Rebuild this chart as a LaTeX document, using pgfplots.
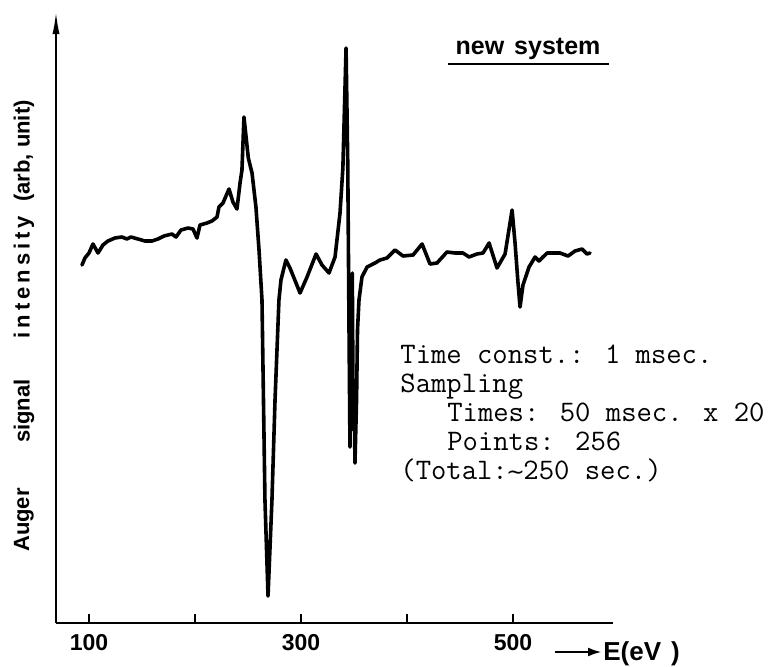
\documentclass[border=0pt]{standalone}
\usepackage{fontspec}
\setmainfont{Liberation Sans}
\newfontfamily\dejavu{DejaVu Sans}
\usepackage{pgfplots}
\pgfplotsset{compat=1.18}
\usetikzlibrary{arrows.meta}
\begin{document}
\begin{tikzpicture}
\path[use as bounding box] (0,0) rectangle (386pt,333pt);
\begin{axis}[
  at={(28pt,21.5pt)}, anchor=south west,
  scale only axis, width=278.5pt, height=306.5pt,
  xmin=68.9, xmax=594.3, ymin=0, ymax=613,
  axis x line=bottom, axis y line=left,
  axis line style={line width=1.2pt},
  x axis line style={-},
  y axis line style={-{Latex[length=12pt,width=3.5pt]}},
  xtick={100,200,300,400,500}, xticklabels={100,,300,,500},
  ytick=\empty,
  tick align=inside, major tick length=4.5pt,
  xtick style={line width=1.1pt,black},
  /pgf/number format/assume math mode=true,
  tick label style={font=\fontsize{11.5}{13}\selectfont\bfseries},
  xticklabel style={yshift=-2pt},
  clip=false,
]
\addplot[black, line width=1.8pt, line join=round, line cap=round] coordinates {
(93.4,358) (96.2,365) (100.0,370) (103.8,379) (108.5,370) (113.2,378)
(117.9,382) (124.5,385) (131.1,386) (135.8,384) (139.6,386) (146.2,384)
(152.8,382) (159.4,382) (165.1,384) (170.8,387) (178.3,389) (182.1,386)
(186.8,393) (193.4,395) (198.1,394) (201.9,385) (204.7,398) (211.3,400)
(216.0,402) (220.8,406) (222.6,416) (226.4,420) (232.1,434) (235.8,421)
(239.6,414) (242.5,440) (244.3,453) (246.2,506) (247.8,490) (250.3,465)
(253.8,450) (257.5,416) (260.4,373) (263.2,323) (266.0,123) (268.9,27)
(272.6,123) (275.5,223) (279.2,323) (281.1,343) (285.8,363) (289.6,355)
(299.1,330) (305.7,346) (314.2,369) (319.8,358) (326.4,350) (332.1,366)
(336.8,410) (339.5,455) (342.5,575) (344.1,460) (345.3,293) (346.2,176)
(347.2,263) (347.7,193) (348.4,350) (349.2,203) (350.0,243) (350.9,160)
(352.4,223) (353.3,293) (354.7,323) (357.5,346) (362.3,356) (369.8,360)
(374.5,363) (381.1,365) (388.7,373) (396.2,367) (405.7,368) (414.2,379)
(421.7,359) (428.3,360) (437.7,371) (445.3,370) (452.8,370) (458.5,366)
(466.0,369) (471.7,370) (477.4,380) (484.9,355) (492.5,369) (499.1,413)
(501.9,380) (504.7,340) (506.6,316) (509.4,338) (515.1,356) (520.8,366)
(524.5,362) (532.1,370) (544.3,370) (551.9,367) (558.5,372) (565.1,374)
(569.8,369) (572.6,370)
};
\end{axis}
\begin{scope}[x=0.5pt,y=-0.5pt,yshift=333pt]
  % y label
  \begin{scope}[every node/.style={rotate=90, font=\fontsize{11}{13}\selectfont\bfseries, inner sep=0pt}]
    \node at (24,520) {Auger};
    \node at (24,411) {signal};
    \node at (24,277) {\addfontfeature{LetterSpace=18}intensity};
    \node at (24,151) {(arb, unit)};
  \end{scope}
  % title
  \node[font=\fontsize{12.5}{15}\selectfont\bfseries, anchor=base, inner sep=0pt] at (528,55) {new\hspace{5pt}system};
  \draw[line width=1.1pt] (448,64) -- (609,64);
  % annotation
  \node[anchor=base west, inner sep=0pt, align=left,
        font=\fontsize{14.9}{14.5}\selectfont\ttfamily] at (400,479)
    {Time const.: 1 msec.\\
     Sampling\\
     \hspace*{1.575em}Times: 50 msec. x 20\\
     \hspace*{1.575em}Points: 256\\
     (Total:\makebox[0.525em]{\fontsize{11}{11}\selectfont\dejavu ∼}250 sec.)};
  % E(eV)
  \draw[line width=1.3pt, -{Latex[length=7pt,width=4.5pt]}] (555,652) -- (602,652);
  \node[anchor=base west, inner sep=0pt, font=\fontsize{13}{15}\selectfont\bfseries] at (603,660) {E(eV\hspace{5pt})};
\end{scope}
\end{tikzpicture}
\end{document}
